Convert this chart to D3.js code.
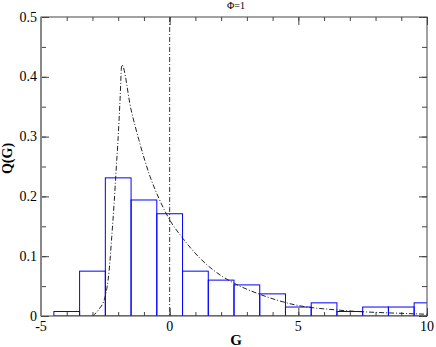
<!DOCTYPE html>
<html>
<head>
<meta charset="utf-8">
<script src="https://cdn.jsdelivr.net/npm/d3@7"></script>
<style>
  body { margin: 0; background: #fff; }
  svg { display: block; }
</style>
</head>
<body>
<div id="chart"></div>
<script>
// data
const binCenters = [-4, -3, -2, -1, 0, 1, 2, 3, 4, 5, 6, 7, 8, 9, 10];
const binValues = [0.0075, 0.075, 0.231, 0.194, 0.171, 0.075, 0.06, 0.052, 0.037, 0.015, 0.022, 0.0075, 0.015, 0.015, 0.022];

const curveG = [-3.0, -2.77, -2.51, -2.35, -2.25, -2.16, -2.08, -2.0, -1.93, -1.86, -1.5, -1.2, -0.76, -0.4, 0.01, 0.51, 1.18, 1.96, 2.51, 3.52, 4.94, 6.53, 8.95, 10];
const curveQ = [0.0, 0.010, 0.032, 0.077, 0.133, 0.188, 0.244, 0.30, 0.36, 0.42, 0.345, 0.295, 0.233, 0.195, 0.16, 0.13, 0.0965, 0.0686, 0.0547, 0.036, 0.018, 0.010, 0.0045, 0.003];

const xMajor = [-5, 0, 5, 10];
const yMajor = [0, 0.1, 0.2, 0.3, 0.4, 0.5];

const serif = "Liberation Serif";

// margin convention
const svgWidth = 436,
    svgHeight = 347,
    margin = { top: 17, right: 9, bottom: 31, left: 41 },
    width = svgWidth - margin.left - margin.right,
    height = svgHeight - margin.top - margin.bottom;

let svg = d3.select("#chart").append("svg")
    .attr("width", svgWidth)
    .attr("height", svgHeight)
    .append("g")
    .attr("transform", "translate(" + margin.left + "," + margin.top + ")");

let xScale = d3.scaleLinear().domain([-5, 10]).range([0, width]),
    yScale = d3.scaleLinear().domain([0, 0.5]).range([height, 0]);

svg.append("clipPath").attr("id", "clip")
    .append("rect").attr("width", width).attr("height", height);

let plot = svg.append("g").attr("clip-path", "url(#clip)");

// histogram bars
plot.selectAll("rect.bar")
    .data(binCenters)
    .join("rect")
    .attr("class", "bar")
    .attr("x", (d) => xScale(d - 0.5))
    .attr("y", (d, i) => yScale(binValues[i]))
    .attr("width", (d) => xScale(d + 0.5) - xScale(d - 0.5))
    .attr("height", (d, i) => height - yScale(binValues[i]))
    .attr("fill", "none")
    .attr("stroke", "#0000ff")
    .attr("stroke-width", 1);

// vertical line at G = 0
plot.append("line")
    .attr("x1", xScale(0)).attr("x2", xScale(0))
    .attr("y1", 0).attr("y2", height)
    .attr("stroke", "#333")
    .attr("stroke-width", 1)
    .attr("stroke-dasharray", "5,2,1,2");

// curve
let line = d3.line()
    .x((d) => xScale(d))
    .y((d, i) => yScale(curveQ[i]))
    .curve(d3.curveMonotoneX);

plot.append("path")
    .datum(curveG)
    .attr("d", line)
    .attr("fill", "none")
    .attr("stroke", "#222")
    .attr("stroke-width", 1)
    .attr("stroke-dasharray", "5,2,1,2");

// axes, ticks inward on all four sides
let xMinor = d3.range(-5, 10.01, 1),
    yMinor = d3.range(0, 0.501, 0.05);

function styleAxis(g) {
    g.select(".domain").remove();
    g.selectAll("line").attr("stroke", "#444");
}

function ticks(axis, scale, values, size, shift) {
    svg.append("g")
        .attr("transform", shift)
        .call(axis(scale).tickValues(values).tickSize(size).tickFormat(""))
        .call(styleAxis);
}

ticks(d3.axisTop, xScale, xMinor, 4, `translate(0, ${height})`);
ticks(d3.axisTop, xScale, xMajor, 8, `translate(0, ${height})`);
ticks(d3.axisBottom, xScale, xMinor, 4, null);
ticks(d3.axisBottom, xScale, xMajor, 8, null);
ticks(d3.axisRight, yScale, yMinor, 5, null);
ticks(d3.axisRight, yScale, yMajor, 8, null);
ticks(d3.axisLeft, yScale, yMinor, 5, `translate(${width}, 0)`);
ticks(d3.axisLeft, yScale, yMajor, 8, `translate(${width}, 0)`);

// frame
svg.append("rect")
    .attr("width", width).attr("height", height)
    .attr("fill", "none")
    .attr("stroke", "#444")
    .attr("stroke-width", 1);
svg.append("line")
    .attr("x1", 0).attr("x2", 0).attr("y1", 0).attr("y2", height)
    .attr("stroke", "#888").attr("stroke-width", 2);

// tick labels
svg.selectAll("text.xlab")
    .data(xMajor)
    .join("text")
    .attr("class", "xlab")
    .attr("x", (d) => xScale(d))
    .attr("y", height + 15)
    .attr("text-anchor", "middle")
    .attr("font-family", serif)
    .attr("font-size", 14)
    .text((d) => d);

svg.selectAll("text.ylab")
    .data(yMajor)
    .join("text")
    .attr("class", "ylab")
    .attr("x", -4)
    .attr("y", (d) => yScale(d) + 4.5)
    .attr("text-anchor", "end")
    .attr("font-family", serif)
    .attr("font-size", 14)
    .text((d) => d === 0 ? "0" : d.toFixed(1));

// axis labels and title
svg.append("text")
    .attr("x", width / 2 + 2)
    .attr("y", height + 29)
    .attr("text-anchor", "middle")
    .attr("font-family", serif)
    .attr("font-size", 15)
    .attr("font-weight", "bold")
    .text("G");

svg.append("text")
    .attr("transform", `translate(-29, ${height / 2 - 8}) rotate(-90)`)
    .attr("text-anchor", "middle")
    .attr("font-family", serif)
    .attr("font-size", 14)
    .attr("font-weight", "bold")
    .text("Q(G)");

svg.append("text")
    .attr("x", width / 2 + 2)
    .attr("y", -8.5)
    .attr("text-anchor", "middle")
    .attr("font-family", serif)
    .attr("font-size", 10)
    .text("Φ=1");
</script>
</body>
</html>
